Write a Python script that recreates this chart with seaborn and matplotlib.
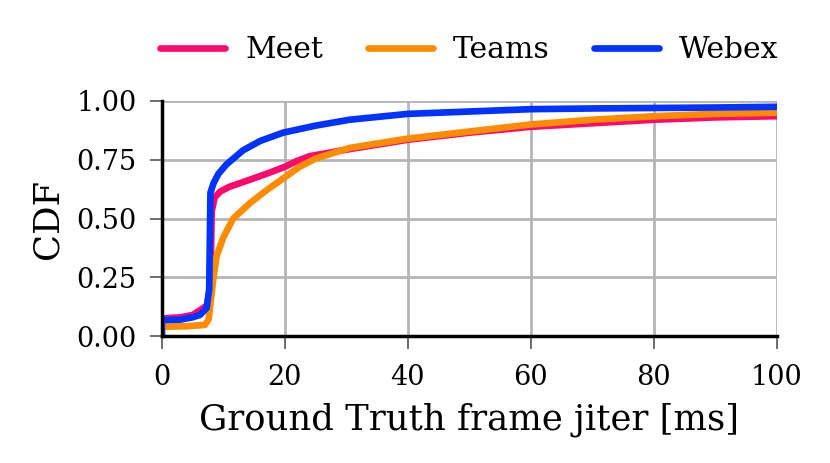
#!/usr/bin/env python3

import numpy as np
import pandas as pd
import matplotlib
matplotlib.use("Agg")
import matplotlib.pyplot as plt
import seaborn as sns

# CDF points (x in ms, y cumulative fraction)
meet_x = [0, 0, 3, 5, 6.2, 7.3, 7.9, 8.1, 8.6, 9.5, 11, 14.3, 17, 20, 22, 24, 30.5, 40, 50, 60, 70, 80, 90, 100]
meet_y = [0, 0.075, 0.08, 0.09, 0.11, 0.13, 0.2, 0.53, 0.59, 0.615, 0.635, 0.665, 0.69, 0.72, 0.745, 0.765, 0.795, 0.835, 0.865, 0.89, 0.905, 0.92, 0.93, 0.935]

teams_x = [0, 0, 4, 7, 7.6, 8.0, 8.4, 8.9, 10, 11.6, 14.3, 17, 19.7, 22.4, 25, 30.5, 40, 50, 60, 70, 80, 90, 100]
teams_y = [0, 0.04, 0.042, 0.048, 0.07, 0.16, 0.25, 0.34, 0.42, 0.50, 0.565, 0.62, 0.67, 0.72, 0.755, 0.80, 0.84, 0.87, 0.90, 0.92, 0.935, 0.945, 0.95]

webex_x = [0, 0, 3, 5, 6.2, 7.3, 7.7, 7.9, 8.4, 9.2, 10.5, 13.2, 16, 19.7, 25, 30.5, 40, 50, 60, 70, 80, 90, 100]
webex_y = [0, 0.068, 0.07, 0.08, 0.09, 0.12, 0.2, 0.61, 0.65, 0.69, 0.73, 0.79, 0.83, 0.865, 0.895, 0.92, 0.945, 0.955, 0.965, 0.968, 0.97, 0.972, 0.975]

x_ticks = [0, 20, 40, 60, 80, 100]
y_ticks = [0.0, 0.25, 0.5, 0.75, 1.0]

COLORS = {"Meet": "#ff0a6c", "Teams": "#ff8c00", "Webex": "#0033ff"}


def build_frame():
    parts = []
    for name, xs, ys in [("Meet", meet_x, meet_y), ("Teams", teams_x, teams_y), ("Webex", webex_x, webex_y)]:
        parts.append(pd.DataFrame({"x": xs, "y": ys, "app": name}))
    return pd.concat(parts, ignore_index=True)


def main():
    sns.set_style("whitegrid")
    plt.rcParams["font.family"] = ["DejaVu Serif"]
    plt.rcParams["text.color"] = "black"
    plt.rcParams["axes.labelcolor"] = "black"
    plt.rcParams["xtick.color"] = "black"
    plt.rcParams["ytick.color"] = "black"

    df = build_frame()

    fig, ax = plt.subplots(figsize=(8.3, 4.63), dpi=100)
    fig.subplots_adjust(left=0.195, right=0.936, top=0.782, bottom=0.274)

    sns.lineplot(data=df, x="x", y="y", hue="app", palette=COLORS,
                 linewidth=4.8, estimator=None, sort=False, ax=ax)

    ax.set_xlim(0, 100)
    ax.set_ylim(0, 1.0)
    ax.set_xticks(x_ticks)
    ax.set_yticks(y_ticks)
    ax.set_yticklabels(["%.2f" % v for v in y_ticks])
    ax.set_xlabel("Ground Truth frame jiter [ms]", fontsize=25.5, labelpad=8)
    ax.set_ylabel("CDF", fontsize=25.5, labelpad=9)
    ax.tick_params(axis="both", labelsize=19.5, length=9, width=1.2,
                   direction="out", bottom=True, left=True)
    ax.tick_params(axis="x", pad=11)
    ax.tick_params(axis="y", pad=9)
    ax.tick_params(axis="both", color="#555555")

    ax.grid(True, color="#b5b5b5", linewidth=2)
    for s in ["top", "right"]:
        ax.spines[s].set_visible(False)
    for s in ["left", "bottom"]:
        ax.spines[s].set_visible(True)
        ax.spines[s].set_color("black")
        ax.spines[s].set_linewidth(2.5)

    handles, labels = ax.get_legend_handles_labels()
    ax.legend(handles, labels, loc="center", bbox_to_anchor=(0.5, 1.215),
              ncol=3, frameon=False, fontsize=21.5, handlelength=2.18,
              handletextpad=0.67, columnspacing=1.5, borderaxespad=0)

    fig.savefig("out.png", dpi=100)


if __name__ == '__main__':
    main()
